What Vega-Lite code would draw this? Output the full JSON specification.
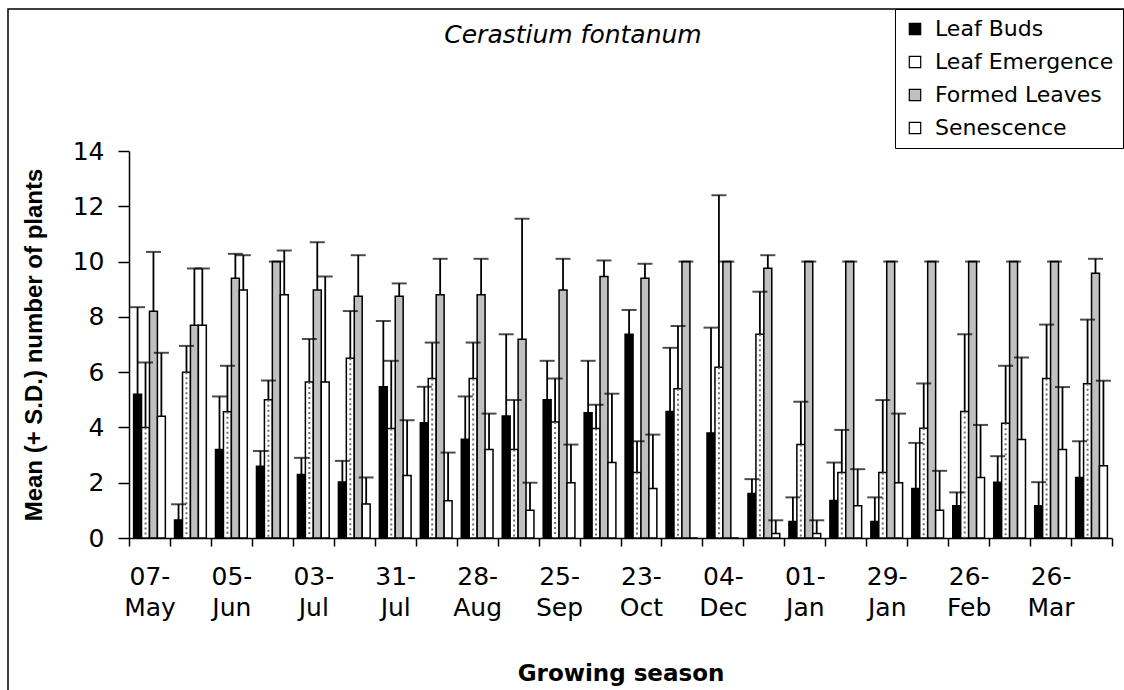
{
  "$schema": "https://vega.github.io/schema/vega-lite/v6.json",
  "autosize": {"type": "none"},
  "padding": {"left": 8, "top": 9, "right": 0, "bottom": 0},
  "width": 1130,
  "height": 700,
  "background": "white",
  "title": {"text": "Cerastium fontanum", "font": "DejaVu Sans", "fontSize": 25, "fontStyle": "italic", "fontWeight": "normal", "color": "black", "anchor": "middle", "baseline": "middle", "offset": -51},
  "config": {
    "view": {"stroke": "black", "strokeWidth": 1.5},
    "axis": {"domainColor": "black", "tickColor": "black", "labelColor": "black", "titleColor": "black", "domainWidth": 1.5, "tickWidth": 1.5, "grid": false}
  },
  "data": {"values": [
    {"date": "07-May", "stage": "Leaf Buds", "mean": 5.2, "upper": 8.35},
    {"date": "07-May", "stage": "Leaf Emergence", "mean": 4.0, "upper": 6.35},
    {"date": "07-May", "stage": "Formed Leaves", "mean": 8.2, "upper": 10.35},
    {"date": "07-May", "stage": "Senescence", "mean": 4.4, "upper": 6.7},
    {"date": "21-May", "stage": "Leaf Buds", "mean": 0.65, "upper": 1.22},
    {"date": "21-May", "stage": "Leaf Emergence", "mean": 6.0, "upper": 6.95},
    {"date": "21-May", "stage": "Formed Leaves", "mean": 7.7, "upper": 9.75},
    {"date": "21-May", "stage": "Senescence", "mean": 7.7, "upper": 9.75},
    {"date": "05-Jun", "stage": "Leaf Buds", "mean": 3.2, "upper": 5.12},
    {"date": "05-Jun", "stage": "Leaf Emergence", "mean": 4.57, "upper": 6.23},
    {"date": "05-Jun", "stage": "Formed Leaves", "mean": 9.4, "upper": 10.28},
    {"date": "05-Jun", "stage": "Senescence", "mean": 8.97, "upper": 10.23},
    {"date": "19-Jun", "stage": "Leaf Buds", "mean": 2.6, "upper": 3.15},
    {"date": "19-Jun", "stage": "Leaf Emergence", "mean": 5.0, "upper": 5.7},
    {"date": "19-Jun", "stage": "Formed Leaves", "mean": 10.0, "upper": 10.0},
    {"date": "19-Jun", "stage": "Senescence", "mean": 8.8, "upper": 10.4},
    {"date": "03-Jul", "stage": "Leaf Buds", "mean": 2.3, "upper": 2.9},
    {"date": "03-Jul", "stage": "Leaf Emergence", "mean": 5.64, "upper": 7.2},
    {"date": "03-Jul", "stage": "Formed Leaves", "mean": 8.97, "upper": 10.7},
    {"date": "03-Jul", "stage": "Senescence", "mean": 5.64, "upper": 9.46},
    {"date": "17-Jul", "stage": "Leaf Buds", "mean": 2.03, "upper": 2.79},
    {"date": "17-Jul", "stage": "Leaf Emergence", "mean": 6.5, "upper": 8.21},
    {"date": "17-Jul", "stage": "Formed Leaves", "mean": 8.75, "upper": 10.23},
    {"date": "17-Jul", "stage": "Senescence", "mean": 1.23, "upper": 2.19},
    {"date": "31-Jul", "stage": "Leaf Buds", "mean": 5.47, "upper": 7.85},
    {"date": "31-Jul", "stage": "Leaf Emergence", "mean": 3.96, "upper": 6.41},
    {"date": "31-Jul", "stage": "Formed Leaves", "mean": 8.75, "upper": 9.21},
    {"date": "31-Jul", "stage": "Senescence", "mean": 2.26, "upper": 4.26},
    {"date": "14-Aug", "stage": "Leaf Buds", "mean": 4.17, "upper": 5.47},
    {"date": "14-Aug", "stage": "Leaf Emergence", "mean": 5.77, "upper": 7.07},
    {"date": "14-Aug", "stage": "Formed Leaves", "mean": 8.8, "upper": 10.1},
    {"date": "14-Aug", "stage": "Senescence", "mean": 1.35, "upper": 3.09},
    {"date": "28-Aug", "stage": "Leaf Buds", "mean": 3.57, "upper": 5.12},
    {"date": "28-Aug", "stage": "Leaf Emergence", "mean": 5.77, "upper": 7.07},
    {"date": "28-Aug", "stage": "Formed Leaves", "mean": 8.8, "upper": 10.1},
    {"date": "28-Aug", "stage": "Senescence", "mean": 3.2, "upper": 4.5},
    {"date": "11-Sep", "stage": "Leaf Buds", "mean": 4.41, "upper": 7.37},
    {"date": "11-Sep", "stage": "Leaf Emergence", "mean": 3.2, "upper": 4.99},
    {"date": "11-Sep", "stage": "Formed Leaves", "mean": 7.19, "upper": 11.55},
    {"date": "11-Sep", "stage": "Senescence", "mean": 1.0, "upper": 2.0},
    {"date": "25-Sep", "stage": "Leaf Buds", "mean": 5.0, "upper": 6.41},
    {"date": "25-Sep", "stage": "Leaf Emergence", "mean": 4.2, "upper": 5.77},
    {"date": "25-Sep", "stage": "Formed Leaves", "mean": 8.97, "upper": 10.1},
    {"date": "25-Sep", "stage": "Senescence", "mean": 2.0, "upper": 3.38},
    {"date": "09-Oct", "stage": "Leaf Buds", "mean": 4.53, "upper": 6.41},
    {"date": "09-Oct", "stage": "Leaf Emergence", "mean": 3.96, "upper": 4.82},
    {"date": "09-Oct", "stage": "Formed Leaves", "mean": 9.46, "upper": 10.04},
    {"date": "09-Oct", "stage": "Senescence", "mean": 2.73, "upper": 5.22},
    {"date": "23-Oct", "stage": "Leaf Buds", "mean": 7.37, "upper": 8.25},
    {"date": "23-Oct", "stage": "Leaf Emergence", "mean": 2.37, "upper": 3.5},
    {"date": "23-Oct", "stage": "Formed Leaves", "mean": 9.4, "upper": 9.92},
    {"date": "23-Oct", "stage": "Senescence", "mean": 1.79, "upper": 3.74},
    {"date": "13-Nov", "stage": "Leaf Buds", "mean": 4.58, "upper": 6.88},
    {"date": "13-Nov", "stage": "Leaf Emergence", "mean": 5.4, "upper": 7.67},
    {"date": "13-Nov", "stage": "Formed Leaves", "mean": 10.0, "upper": 10.0},
    {"date": "13-Nov", "stage": "Senescence", "mean": 0, "upper": null},
    {"date": "04-Dec", "stage": "Leaf Buds", "mean": 3.8, "upper": 7.61},
    {"date": "04-Dec", "stage": "Leaf Emergence", "mean": 6.18, "upper": 12.4},
    {"date": "04-Dec", "stage": "Formed Leaves", "mean": 10.0, "upper": 10.0},
    {"date": "04-Dec", "stage": "Senescence", "mean": 0, "upper": null},
    {"date": "18-Dec", "stage": "Leaf Buds", "mean": 1.61, "upper": 2.13},
    {"date": "18-Dec", "stage": "Leaf Emergence", "mean": 7.37, "upper": 8.91},
    {"date": "18-Dec", "stage": "Formed Leaves", "mean": 9.76, "upper": 10.23},
    {"date": "18-Dec", "stage": "Senescence", "mean": 0.16, "upper": 0.64},
    {"date": "01-Jan", "stage": "Leaf Buds", "mean": 0.6, "upper": 1.47},
    {"date": "01-Jan", "stage": "Leaf Emergence", "mean": 3.38, "upper": 4.93},
    {"date": "01-Jan", "stage": "Formed Leaves", "mean": 10.0, "upper": 10.0},
    {"date": "01-Jan", "stage": "Senescence", "mean": 0.16, "upper": 0.64},
    {"date": "15-Jan", "stage": "Leaf Buds", "mean": 1.36, "upper": 2.73},
    {"date": "15-Jan", "stage": "Leaf Emergence", "mean": 2.37, "upper": 3.91},
    {"date": "15-Jan", "stage": "Formed Leaves", "mean": 10.0, "upper": 10.0},
    {"date": "15-Jan", "stage": "Senescence", "mean": 1.17, "upper": 2.49},
    {"date": "29-Jan", "stage": "Leaf Buds", "mean": 0.6, "upper": 1.47},
    {"date": "29-Jan", "stage": "Leaf Emergence", "mean": 2.37, "upper": 4.99},
    {"date": "29-Jan", "stage": "Formed Leaves", "mean": 10.0, "upper": 10.0},
    {"date": "29-Jan", "stage": "Senescence", "mean": 2.0, "upper": 4.5},
    {"date": "12-Feb", "stage": "Leaf Buds", "mean": 1.79, "upper": 3.44},
    {"date": "12-Feb", "stage": "Leaf Emergence", "mean": 3.97, "upper": 5.59},
    {"date": "12-Feb", "stage": "Formed Leaves", "mean": 10.0, "upper": 10.0},
    {"date": "12-Feb", "stage": "Senescence", "mean": 1.0, "upper": 2.43},
    {"date": "26-Feb", "stage": "Leaf Buds", "mean": 1.17, "upper": 1.65},
    {"date": "26-Feb", "stage": "Leaf Emergence", "mean": 4.58, "upper": 7.37},
    {"date": "26-Feb", "stage": "Formed Leaves", "mean": 10.0, "upper": 10.0},
    {"date": "26-Feb", "stage": "Senescence", "mean": 2.19, "upper": 4.09},
    {"date": "12-Mar", "stage": "Leaf Buds", "mean": 2.02, "upper": 2.96},
    {"date": "12-Mar", "stage": "Leaf Emergence", "mean": 4.15, "upper": 6.23},
    {"date": "12-Mar", "stage": "Formed Leaves", "mean": 10.0, "upper": 10.0},
    {"date": "12-Mar", "stage": "Senescence", "mean": 3.56, "upper": 6.53},
    {"date": "26-Mar", "stage": "Leaf Buds", "mean": 1.17, "upper": 2.02},
    {"date": "26-Mar", "stage": "Leaf Emergence", "mean": 5.77, "upper": 7.72},
    {"date": "26-Mar", "stage": "Formed Leaves", "mean": 10.0, "upper": 10.0},
    {"date": "26-Mar", "stage": "Senescence", "mean": 3.2, "upper": 5.46},
    {"date": "09-Apr", "stage": "Leaf Buds", "mean": 2.19, "upper": 3.5},
    {"date": "09-Apr", "stage": "Leaf Emergence", "mean": 5.58, "upper": 7.9},
    {"date": "09-Apr", "stage": "Formed Leaves", "mean": 9.58, "upper": 10.1},
    {"date": "09-Apr", "stage": "Senescence", "mean": 2.61, "upper": 5.69}
  ]},
  "encoding": {
    "x": {
      "field": "date", "type": "nominal", "sort": null,
      "scale": {"range": [121, 1104], "paddingInner": 0, "paddingOuter": 0},
      "axis": {
        "title": "Growing season", "titleFont": "DejaVu Sans", "titleFontSize": 23, "titleFontWeight": "bold", "titlePadding": 42,
        "offset": -171, "tickBand": "extent", "tickSize": 8, "labelAngle": 0, "labelOverlap": false,
        "labelFont": "DejaVu Sans", "labelFontSize": 25, "labelLineHeight": 31, "labelPadding": 18, "labelBaseline": "top",
        "labelExpr": "indexof(['07-May','05-Jun','03-Jul','31-Jul','28-Aug','25-Sep','23-Oct','04-Dec','01-Jan','29-Jan','26-Feb','26-Mar'], datum.value) >= 0 ? [substring(datum.value, 0, 3), substring(datum.value, 3)] : ''"
      }
    },
    "xOffset": {
      "field": "stage", "type": "nominal",
      "sort": ["Leaf Buds", "Leaf Emergence", "Formed Leaves", "Senescence"],
      "scale": {"paddingInner": 0, "paddingOuter": 0.58}
    }
  },
  "layer": [
    {
      "mark": {"type": "bar", "stroke": "black", "strokeWidth": 1.5},
      "encoding": {
        "y": {
          "field": "mean", "type": "quantitative",
          "scale": {"domain": [0, 14], "range": [529, 142], "nice": false},
          "axis": {
            "title": "Mean (+ S.D.) number of plants", "titleFont": "Liberation Sans", "titleFontSize": 24, "titleFontWeight": "bold", "titlePadding": 26,
            "values": [0, 2, 4, 6, 8, 10, 12, 14], "offset": -121, "tickSize": 11,
            "labelFont": "DejaVu Sans", "labelFontSize": 25, "labelPadding": 14
          }
        },
        "fill": {
          "field": "stage", "type": "nominal",
          "scale": {"domain": ["Leaf Buds", "Leaf Emergence", "Formed Leaves", "Senescence"], "range": ["#000000", "#ffffff", "#c0c0c0", "#ffffff"]},
          "legend": {
            "orient": "none", "legendX": 887, "legendY": 0, "title": null,
            "symbolType": "square", "symbolSize": 130, "symbolStrokeColor": "black", "symbolStrokeWidth": 1.2,
            "labelFont": "DejaVu Sans", "labelFontSize": 22, "labelColor": "black", "labelOffset": 9, "labelLimit": 400,
            "rowPadding": 11, "padding": 9, "strokeColor": "black", "fillColor": "white"
          }
        }
      }
    },
    {
      "transform": [{"filter": "datum.stage == 'Leaf Emergence'"}],
      "mark": {"type": "rule", "color": "#707070", "strokeWidth": 2, "strokeDash": [2, 3]},
      "encoding": {
        "y": {"field": "mean", "type": "quantitative"},
        "y2": {"datum": 0}
      }
    },
    {
      "transform": [{"filter": "isValid(datum.upper)"}],
      "mark": {"type": "rule", "color": "black", "strokeWidth": 1.8},
      "encoding": {
        "y": {"field": "mean", "type": "quantitative"},
        "y2": {"field": "upper"}
      }
    },
    {
      "transform": [{"filter": "isValid(datum.upper)"}],
      "mark": {"type": "tick", "color": "black", "thickness": 2, "size": 15},
      "encoding": {
        "y": {"field": "upper", "type": "quantitative"}
      }
    }
  ]
}
